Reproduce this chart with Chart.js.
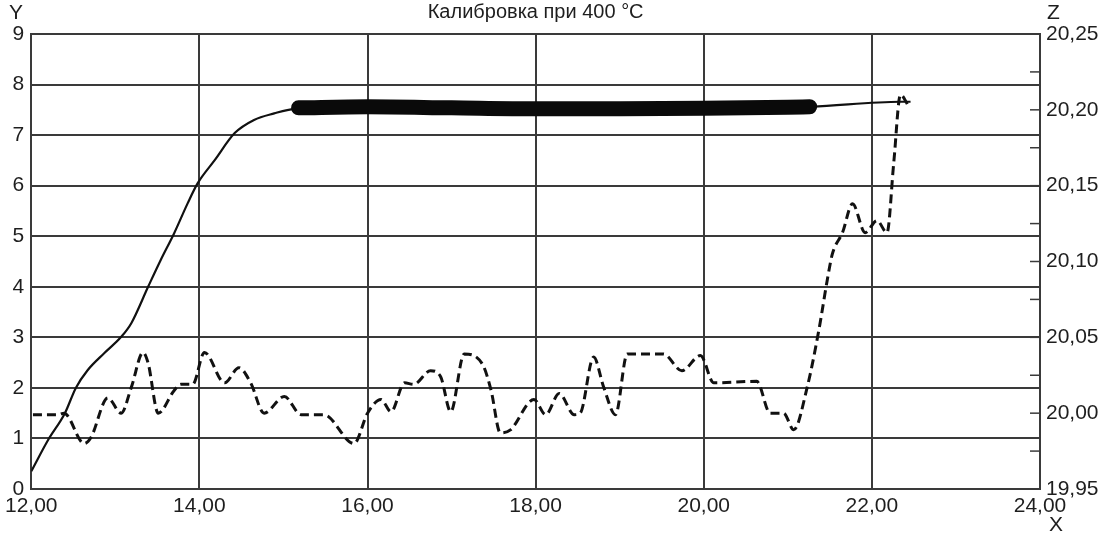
<!DOCTYPE html>
<html>
<head>
<meta charset="utf-8">
<script src="https://cdn.jsdelivr.net/npm/chart.js@4.4.1/dist/chart.umd.min.js"></script>
<style>
  html, body { margin: 0; padding: 0; background: #fff; }
  #wrap { width: 1102px; height: 534px; }
</style>
</head>
<body>
<div id="wrap"><canvas id="chart" width="1102" height="534"></canvas></div>
<script>
// solid curve, left axis (Y)
var solidX = [12.0, 12.2, 12.4, 12.53, 12.67, 12.87, 13.07, 13.19, 13.39, 13.54, 13.7, 13.86, 13.98, 14.18, 14.42, 14.65, 14.89, 15.13, 16.0, 17.0, 18.0, 19.0, 20.0, 21.0, 21.28, 22.34, 22.46];
var solidY = [0.35, 0.97, 1.5, 2.0, 2.35, 2.69, 3.01, 3.28, 4.0, 4.53, 5.06, 5.65, 6.05, 6.5, 7.04, 7.3, 7.43, 7.52, 7.56, 7.54, 7.52, 7.52, 7.53, 7.55, 7.56, 7.66, 7.66];

// thick stretch of the solid curve
var bandX = [15.18, 16.0, 17.0, 18.0, 19.0, 20.0, 21.0, 21.26];
var bandY = [7.54, 7.56, 7.54, 7.52, 7.52, 7.53, 7.55, 7.56];

// dashed curve, right axis (Z)
var dashX = [12.02, 12.32, 12.39, 12.63, 12.71, 12.91, 13.07, 13.19, 13.33, 13.39, 13.51, 13.7, 13.78, 13.92, 14.06, 14.3, 14.47, 14.61, 14.77, 15.01, 15.21, 15.48, 15.84, 16.0, 16.16, 16.28, 16.44, 16.55, 16.75, 16.87, 16.99, 17.15, 17.37, 17.47, 17.58, 17.7, 17.98, 18.12, 18.28, 18.46, 18.53, 18.69, 18.81, 18.95, 19.09, 19.29, 19.52, 19.74, 19.96, 20.12, 20.63, 20.79, 20.95, 21.07, 21.23, 21.37, 21.47, 21.53, 21.65, 21.77, 21.92, 22.06, 22.18, 22.26, 22.34, 22.44];
var dashZ = [19.999, 19.999, 20.000, 19.980, 19.984, 20.010, 20.000, 20.017, 20.040, 20.033, 20.000, 20.015, 20.019, 20.019, 20.040, 20.020, 20.030, 20.020, 20.000, 20.011, 19.999, 19.999, 19.980, 20.000, 20.009, 20.001, 20.020, 20.019, 20.028, 20.024, 20.001, 20.039, 20.032, 20.015, 19.987, 19.989, 20.009, 19.999, 20.013, 19.999, 20.000, 20.037, 20.017, 19.999, 20.039, 20.039, 20.039, 20.028, 20.038, 20.020, 20.021, 20.000, 20.000, 19.989, 20.017, 20.055, 20.088, 20.105, 20.119, 20.138, 20.119, 20.127, 20.119, 20.165, 20.210, 20.202];

var xTicks = [12, 14, 16, 18, 20, 22, 24];
var yTicks = [0, 1, 2, 3, 4, 5, 6, 7, 8, 9];
var zTicks = [19.95, 20.00, 20.05, 20.10, 20.15, 20.20, 20.25];

var titleText = 'Калибровка при 400 °C';
var FONT = "'Liberation Sans', Arial, sans-serif";
var GRID = '#3a3a3a';
var TXT = '#1e1e1e';

function pts(xs, ys) {
    return xs.map(function (x, i) { return { x: x, y: ys[i] }; });
}
function comma(v) {
    return Number(v).toFixed(2).replace('.', ',');
}

var decor = {
    id: 'decor',
    afterDraw: function (chart) {
        var c = chart.ctx;
        var a = chart.chartArea;
        var z = chart.scales.z;
        c.save();
        // inward ticks on the Z axis
        c.strokeStyle = GRID;
        c.lineWidth = 1.5;
        for (var k = 0; k <= 12; k++) {
            var py = z.getPixelForValue(19.95 + k * 0.025);
            c.beginPath();
            c.moveTo(a.right - 10, py);
            c.lineTo(a.right, py);
            c.stroke();
        }
        c.fillStyle = TXT;
        c.textBaseline = 'middle';
        c.font = '20px ' + FONT;
        c.textAlign = 'center';
        c.fillText(titleText, (a.left + a.right) / 2, 12);
        c.font = '21px ' + FONT;
        c.textAlign = 'left';
        c.fillText('Y', 9, 13);
        c.fillText('Z', 1047, 13);
        c.fillText('X', 1049, 525);
        c.restore();
    }
};

new Chart(document.getElementById('chart'), {
    type: 'line',
    data: {
        datasets: [{
            label: 'Z',
            data: pts(dashX, dashZ),
            yAxisID: 'z',
            borderColor: '#111',
            borderWidth: 3,
            borderDash: [9, 5],
            pointRadius: 0,
            cubicInterpolationMode: 'monotone',
            fill: false
        }, {
            label: 'Y band',
            data: pts(bandX, bandY),
            yAxisID: 'y',
            borderColor: '#0a0a0a',
            borderWidth: 15,
            borderCapStyle: 'round',
            pointRadius: 0,
            cubicInterpolationMode: 'monotone',
            fill: false
        }, {
            label: 'Y',
            data: pts(solidX, solidY),
            yAxisID: 'y',
            borderColor: '#111',
            borderWidth: 2.2,
            pointRadius: 0,
            cubicInterpolationMode: 'monotone',
            fill: false
        }]
    },
    options: {
        responsive: false,
        animation: false,
        layout: { padding: { top: 34, left: 0, right: 0, bottom: 0 } },
        plugins: {
            legend: { display: false },
            title: { display: false },
            tooltip: { enabled: false }
        },
        scales: {
            x: {
                type: 'linear',
                min: 12,
                max: 24,
                afterBuildTicks: function (s) { s.ticks = xTicks.map(function (v) { return { value: v }; }); },
                afterFit: function (s) { s.height = 45; },
                grid: { color: GRID, lineWidth: 2, drawTicks: false },
                border: { color: GRID, width: 2 },
                ticks: {
                    color: TXT,
                    padding: 5,
                    maxRotation: 0,
                    font: { size: 21, family: FONT },
                    callback: function (v) { return comma(v); }
                }
            },
            y: {
                position: 'left',
                min: 0,
                max: 9,
                afterBuildTicks: function (s) { s.ticks = yTicks.map(function (v) { return { value: v }; }); },
                afterFit: function (s) { s.width = 30; },
                grid: { color: GRID, lineWidth: 2, drawTicks: false },
                border: { color: GRID, width: 2 },
                ticks: {
                    color: TXT,
                    padding: 7,
                    font: { size: 21, family: FONT },
                    callback: function (v) { return String(v); }
                }
            },
            z: {
                position: 'right',
                min: 19.95,
                max: 20.25,
                afterBuildTicks: function (s) { s.ticks = zTicks.map(function (v) { return { value: v }; }); },
                afterFit: function (s) { s.width = 62; },
                grid: { drawOnChartArea: false, drawTicks: false },
                border: { color: GRID, width: 2 },
                ticks: {
                    color: TXT,
                    padding: 6,
                    font: { size: 21, family: FONT },
                    callback: function (v) { return comma(v); }
                }
            }
        }
    },
    plugins: [decor]
});
</script>
</body>
</html>
